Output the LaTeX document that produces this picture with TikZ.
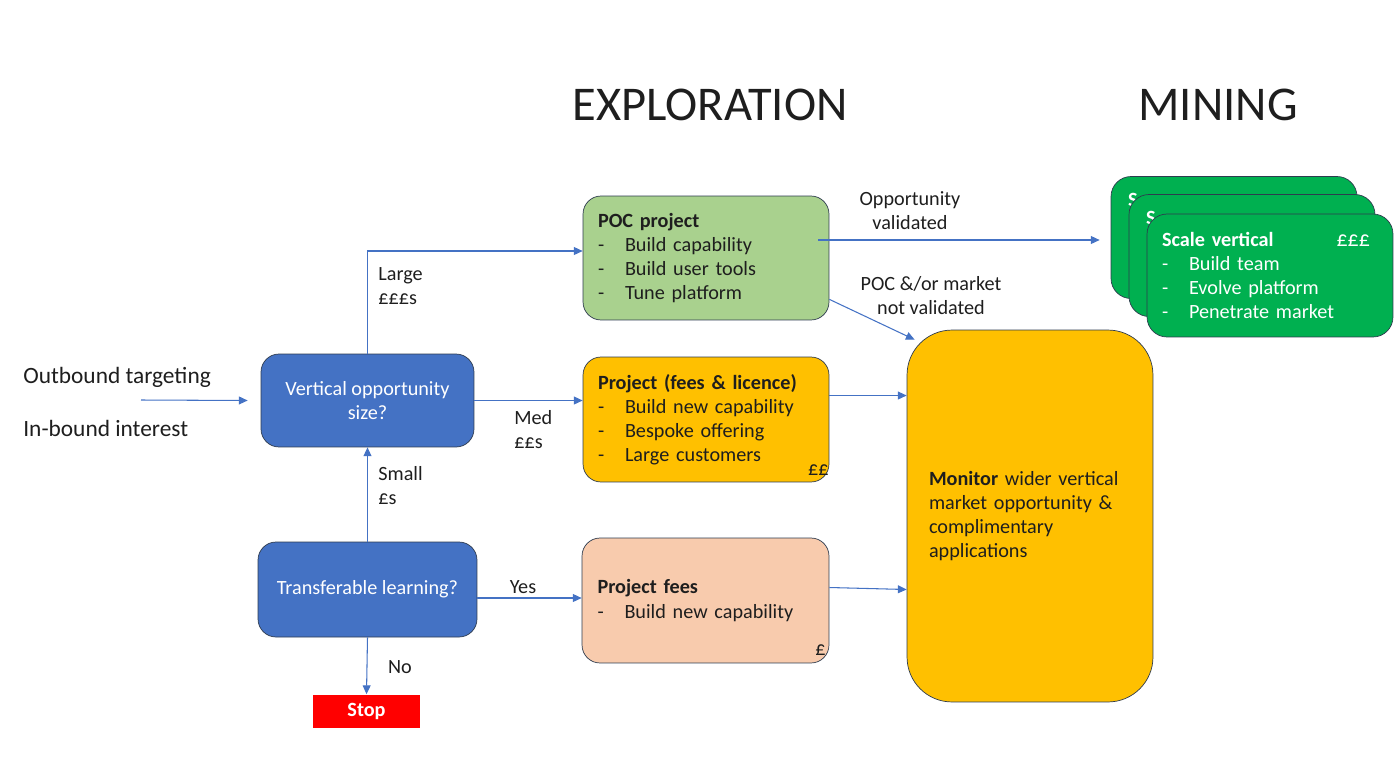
\documentclass[tikz,border=0pt]{standalone}
\usepackage{fontspec}
\setmainfont{Carlito}
\usepackage{xcolor}
\usepackage{tikz}
\usetikzlibrary{arrows.meta, positioning, calc}

\definecolor{askblue}{HTML}{4472C4}
\definecolor{linkblue}{HTML}{4472C4}
\definecolor{pocgreen}{HTML}{A9D18E}
\definecolor{feeyellow}{HTML}{FFC000}
\definecolor{feepeach}{HTML}{F8CBAD}
\definecolor{minegreen}{HTML}{00B050}
\definecolor{edge}{HTML}{2E3B4E}
\definecolor{ink}{HTML}{1E1E1E}

\newcommand{\bitem}{\makebox[0.54cm][l]{-}}

\begin{document}
\begin{tikzpicture}[
    x=0.02cm, y=-0.02cm,
    font=\fontsize{11.5}{13.7}\selectfont, text=ink,
    title/.style={font=\fontsize{27.6}{30}\selectfont, text=ink},
    source/.style={font=\fontsize{13.3}{15}\selectfont, anchor=west, inner sep=0pt},
    ask/.style={rectangle, draw=edge, line width=0.4pt, fill=askblue, rounded corners=0.36cm, text=white, align=center},
    box/.style={rectangle, draw=edge, line width=0.4pt, rounded corners=0.36cm, minimum width=4.92cm, minimum height=2.48cm, text width=4.32cm, inner xsep=0.3cm, align=left},
    card/.style={rectangle, draw=edge, line width=0.4pt, fill=minegreen, rounded corners=0.4cm, minimum width=4.92cm, minimum height=2.44cm, text width=4.32cm, inner xsep=0.3cm, align=left, text=white},
    lbl/.style={align=left, inner sep=0pt},
    arrow/.style={-{Triangle[length=5pt, width=4.5pt]}, draw=linkblue, line width=0.6pt},
]
\useasboundingbox (0,0) rectangle (1400,758);

% titles
\node[title] (explore) at (710,105) {EXPLORATION};
\node[title] (mine) at (1218,105) {MINING};

% inputs
\node[source] (outbound) at (23,377) {Outbound targeting};
\node[source] (inbound) at (23,428) {In-bound interest};
\coordinate (inarr) at (141,400);

% decisions
\node[ask, minimum width=4.26cm, minimum height=1.86cm] (vert) at (367.5,400.5) {Vertical opportunity\\size?};
\node[ask, minimum width=4.38cm, minimum height=1.9cm] (trans) at (367.5,589.5) {Transferable learning?};
\node[rectangle, fill=red, text=white, minimum width=2.14cm, minimum height=0.66cm] (stop) at (366.5,711) {\textbf{Stop}};

% exploration projects
\node[box, fill=pocgreen] (poc) at (706,258) {\textbf{POC project}\\
    \bitem Build capability\\
    \bitem Build user tools\\
    \bitem Tune platform};
\node[box, fill=feeyellow, minimum height=2.5cm] (prj) at (706,419.5) {\textbf{Project (fees \& licence)}\\
    \bitem Build new capability\\
    \bitem Bespoke offering\\
    \bitem Large customers};
\node[lbl, anchor=south east] (prjcost) at (829,476) {££};
\node[box, fill=feepeach, minimum width=4.94cm, minimum height=2.5cm] (fees) at (705.5,600.5) {\textbf{Project fees}\\
    \bitem Build new capability};
\node[lbl, anchor=south east] (feescost) at (826,656) {£};

\node[box, fill=feeyellow, minimum height=7.44cm, rounded corners=0.9cm, inner xsep=0.44cm, text width=4.04cm] (mon) at (1030,516) {\textbf{Monitor} wider vertical\\
    market opportunity \&\\
    complimentary\\
    applications};

% mining stack (back cards only show the corner of their heading)
\foreach \i/\cx/\cy in {1/1234/237.5, 2/1252/255.5}{
  \node[card] (scale\i) at (\cx,\cy) {};
  \node[lbl, anchor=west, text=white] (peek\i) at ([shift={(0.34cm,-0.47cm)}]scale\i.north west) {\textbf{S}};
}
\node[card, minimum height=2.46cm] (scale3) at (1270,275.5) {\textbf{Scale vertical}\hfill{\fontsize{12.5}{13.7}\selectfont £££}\rule{0.16cm}{0pt}\\
    \bitem Build team\\
    \bitem Evolve platform\\
    \bitem Penetrate market};

% connectors
\draw[arrow] (inarr) -- ([xshift=-0.26cm]vert.west);
\draw[arrow] (vert.north) |- ([yshift=0.14cm]poc.west);
\draw[arrow] (vert.east) -- (vert.east -| prj.west);
\draw[arrow] (trans.north) -- (vert.south);
\draw[arrow] ([yshift=-0.17cm]trans.east) -- ([yshift=-0.17cm]trans.east -| fees.west);
\draw[arrow] (trans.south) -- (stop.north);
\draw[arrow] ([shift={(-0.22cm,0.36cm)}]poc.east) -- ([shift={(-0.22cm,0.36cm)}]poc.east -| scale1.west);
\draw[arrow] ([yshift=0.42cm]poc.south east) -- ([shift={(0.16cm,-0.2cm)}]mon.north west);
\draw[arrow] ([yshift=0.48cm]prj.east) -- ([yshift=0.48cm]prj.east -| mon.west);
\draw[arrow] ([yshift=0.26cm]fees.east) -- ([yshift=0.22cm]fees.east -| mon.west);

% connector labels
\node[lbl, anchor=west] (large) at (378,286) {Large\\£££s};
\node[lbl, anchor=west] (med) at (514,430) {Med\\££s};
\node[lbl, anchor=west] (small) at (378,486) {Small\\£s};
\node[lbl] (yes) at (523,587) {Yes};
\node[lbl] (no) at (400,667) {No};
\node[lbl, align=center] (valid) at (910,211) {Opportunity\\validated};
\node[lbl, align=center] (notvalid) at (931,296) {POC \&/or market\\not validated};

\end{tikzpicture}
\end{document}
